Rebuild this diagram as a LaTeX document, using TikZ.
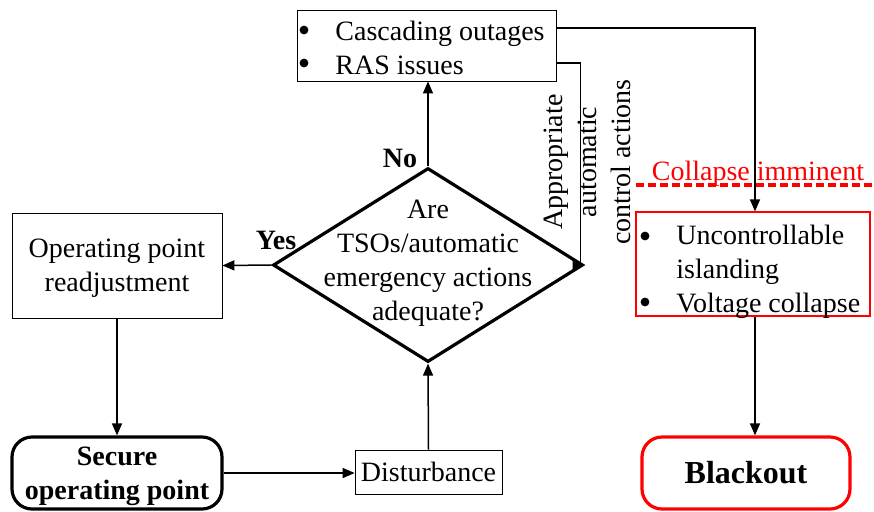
\documentclass[tikz,border=0pt]{standalone}
\usepackage{fontspec}
\setmainfont{Liberation Serif}
\usetikzlibrary{shapes,arrows.meta,positioning}
\tikzstyle{every node} = [font=\fontsize{14}{17}\selectfont]
\tikzstyle{plainbox} = [draw, rectangle, thin, inner sep=0pt, align=center]
\tikzstyle{redbox} = [plainbox, draw=red, line width=0.6pt]
\tikzstyle{statebox} = [draw, rectangle, rounded corners=10pt, line width=1.6pt,
    inner sep=0pt, align=center, font=\fontsize{14}{17}\selectfont\bfseries]
\tikzstyle{decision} = [draw, diamond, line width=1.6pt, inner sep=0pt]
\tikzstyle{flow} = [-{Triangle[length=6pt,width=5pt]}, line width=0.75pt]
\tikzstyle{listtext} = [anchor=west, align=left, inner sep=0pt]

\begin{document}
\begin{tikzpicture}[x=0.5pt, y=-0.5pt]
\useasboundingbox (0,0) rectangle (874,511);

% boxes
\node [plainbox, minimum width=129.5pt, minimum height=35.5pt] (cascade) at (426.5,45.5) {};
\node [listtext] (cascadetext) at (335,48) {Cascading outages\\RAS issues};
\fill (304,30) circle (2.2pt);
\fill (304,63) circle (2.2pt);

\node [decision, minimum width=155pt, minimum height=97pt] (check) at (428,265) {};
\node [align=center, inner sep=0pt] (checktext) at (428,263) {%
    Are\\TSOs/automatic\\emergency actions\\adequate?};

\node [plainbox, minimum width=105pt, minimum height=52.5pt] (readjust) at (117,265.5) {};
\node [align=center, inner sep=0pt] (readjusttext) at (117,268) {%
    Operating point\\readjustment};

\node [statebox, minimum width=105pt, minimum height=36pt] (secure) at (117,473) {};
\node [align=center, inner sep=0pt, font=\fontsize{14}{17}\selectfont\bfseries]
    (securetext) at (117,476) {Secure\\operating point};

\node [plainbox, minimum width=73.5pt, minimum height=22pt] (disturb) at (428.5,472) {Disturbance};

\node [redbox, minimum width=117pt, minimum height=52pt] (island) at (753,264) {};
\node [listtext] (islandtext) at (676,272) {Uncontrollable\\islanding\\Voltage collapse};
\fill (645,236) circle (2.2pt);
\fill (645,302) circle (2.2pt);

\node [statebox, draw=red, minimum width=104pt, minimum height=36pt,
    font=\fontsize{16}{19}\selectfont\bfseries] (blackout) at (746,473) {Blackout};

% labels
\node [font=\fontsize{14}{17}\selectfont\bfseries] (nolabel) at (400,158) {No};
\node [font=\fontsize{14}{17}\selectfont\bfseries] (yeslabel) at (276,240) {Yes};
\node [rotate=90, align=center, inner sep=0pt] (actions) at (587,162) {%
    Appropriate\\automatic\\control actions};

\coordinate (limitL) at (636,185);
\coordinate (limitR) at (874,185);
\draw [red, line width=2pt, dash pattern=on 4pt off 2pt] (limitL) -- (limitR);
\node [red, anchor=base] (imminent) at (758,180) {Collapse imminent};

% connectors
\draw [flow] (check.north) -- (check.north |- cascade.south);
\draw [flow] (check.west) -- (readjust.east);
\draw [flow] (readjust.south) -- (secure.north);
\draw [flow] (secure.east) -- (secure.east -| disturb.west);
\draw [flow] (disturb.north) -- (check.south);
\draw [flow] ([yshift=8.75pt]cascade.east) -| ([xshift=1pt]island.north);
\draw [flow] ([yshift=-8.75pt]cascade.east) -- ++(24,0) |- (check.east);
\draw [flow] ([xshift=1pt]island.south) -- ([xshift=1pt]island.south |- blackout.north);

\end{tikzpicture}
\end{document}
